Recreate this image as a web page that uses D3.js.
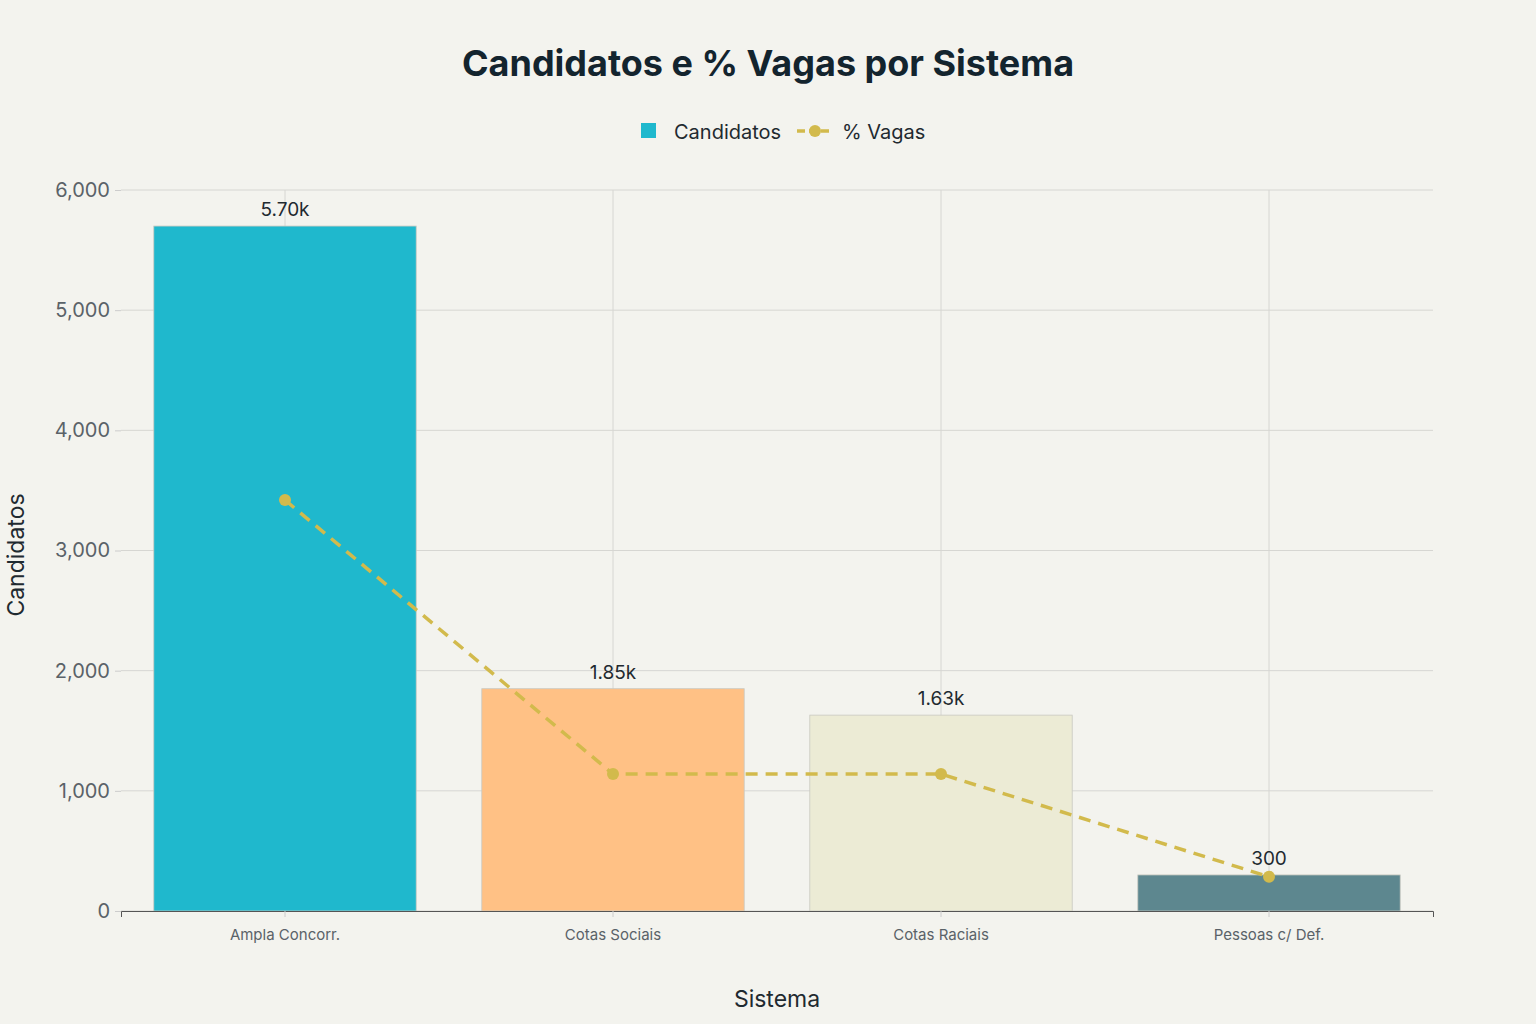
<!DOCTYPE html>
<html><head><meta charset="utf-8">
<script src="https://cdn.jsdelivr.net/npm/d3@7"></script>
<style>body{margin:0;background:#f3f3ee;font-family:Inter,"Open Sans",sans-serif}</style>
</head><body><svg id="c" width="1536" height="1024"></svg>
<script>
// Chart data
const categories = ["Ampla Concorr.", "Cotas Sociais", "Cotas Raciais", "Pessoas c/ Def."];
const candidatos = [5700, 1850, 1630, 300];
const vagasPct = [60, 20, 20, 5];
const barLabels = ["5.70k", "1.85k", "1.63k", "300"];
const barColors = ["#1fb8cd", "#ffc185", "#eceBd5", "#5d878f"];
const yTicks = [0, 1000, 2000, 3000, 4000, 5000, 6000];

const svg = d3.select("#c");
const m = {l: 121, r: 1433, t: 190, b: 911};

const x = d3.scaleBand().domain(categories).range([m.l, m.r]).paddingInner(0.2).paddingOuter(0.1);
const y = d3.scaleLinear().domain([0, 6000]).range([m.b, m.t]);
const y2 = d3.scaleLinear().domain([0, 6000 * 60 / 3420]).range([m.b, m.t]);

// grid
svg.append("g").selectAll("line").data(yTicks).join("line")
  .attr("x1", m.l).attr("x2", m.r).attr("y1", d => y(d)).attr("y2", d => y(d))
  .attr("stroke", "#d6d6d2");
svg.append("g").selectAll("line").data(categories).join("line")
  .attr("x1", d => x(d) + x.bandwidth() / 2).attr("x2", d => x(d) + x.bandwidth() / 2)
  .attr("y1", m.t).attr("y2", m.b).attr("stroke", "#d6d6d2");

// bars
svg.append("g").selectAll("rect").data(categories).join("rect")
  .attr("x", d => x(d)).attr("width", x.bandwidth())
  .attr("y", (d, i) => y(candidatos[i])).attr("height", (d, i) => m.b - y(candidatos[i]))
  .attr("fill", (d, i) => barColors[i]).attr("stroke", "#c9c9c0").attr("stroke-width", 0.8);

svg.append("g").selectAll("text").data(categories).join("text")
  .attr("x", d => x(d) + x.bandwidth() / 2).attr("y", (d, i) => y(candidatos[i]) - 10)
  .attr("text-anchor", "middle").attr("font-size", 19).attr("fill", "#1f2a30")
  .text((d, i) => barLabels[i]);

// axes
const ya = svg.append("g").attr("transform", `translate(${m.l},0)`)
  .call(d3.axisLeft(y).tickValues(yTicks).tickFormat(d3.format(",")).tickSize(6));
ya.select(".domain").remove();
ya.selectAll("line").attr("stroke", "#ccc");
ya.selectAll("text").attr("font-size", 20).attr("fill", "#5a6268").attr("font-family", "Inter").attr("dx", -2);

const xa = svg.append("g").attr("transform", `translate(0,${m.b})`)
  .call(d3.axisBottom(x).tickSize(6));
xa.select(".domain").attr("stroke", "#555");
xa.selectAll("line").attr("stroke", "#ccc");
xa.selectAll("text").attr("font-size", 15).attr("fill", "#5a6268").attr("font-family", "Inter").attr("dy", "1.3em");

// line
const lineData = categories.map((c, i) => [x(c) + x.bandwidth() / 2, y2(vagasPct[i])]);
svg.append("path").attr("d", d3.line()(lineData)).attr("fill", "none")
  .attr("stroke", "#d2ba4c").attr("stroke-width", 3.5).attr("stroke-dasharray", "12,8");
svg.append("g").selectAll("circle").data(lineData).join("circle")
  .attr("cx", d => d[0]).attr("cy", d => d[1]).attr("r", 6).attr("fill", "#d2ba4c");

// titles
svg.append("text").attr("x", 768).attr("y", 76).attr("text-anchor", "middle")
  .attr("font-size", 36).attr("font-weight", 700).attr("fill", "#13242e").text("Candidatos e % Vagas por Sistema");
svg.append("text").attr("x", 777).attr("y", 1007).attr("text-anchor", "middle")
  .attr("font-size", 23).attr("fill", "#1f2a30").text("Sistema");
svg.append("text").attr("transform", "translate(24,555) rotate(-90)").attr("text-anchor", "middle")
  .attr("font-size", 23).attr("fill", "#1f2a30").text("Candidatos");

// legend
const lg = svg.append("g");
lg.append("rect").attr("x", 641).attr("y", 123).attr("width", 15).attr("height", 15).attr("fill", "#1fb8cd");
lg.append("text").attr("x", 674).attr("y", 139).attr("font-size", 20).attr("fill", "#1f2a30").text("Candidatos");
lg.append("line").attr("x1", 797).attr("x2", 833).attr("y1", 131).attr("y2", 131)
  .attr("stroke", "#d2ba4c").attr("stroke-width", 3.5).attr("stroke-dasharray", "8,4");
lg.append("circle").attr("cx", 815).attr("cy", 131).attr("r", 6).attr("fill", "#d2ba4c");
lg.append("text").attr("x", 842).attr("y", 139).attr("font-size", 20).attr("fill", "#1f2a30").text("% Vagas");
</script></body></html>
